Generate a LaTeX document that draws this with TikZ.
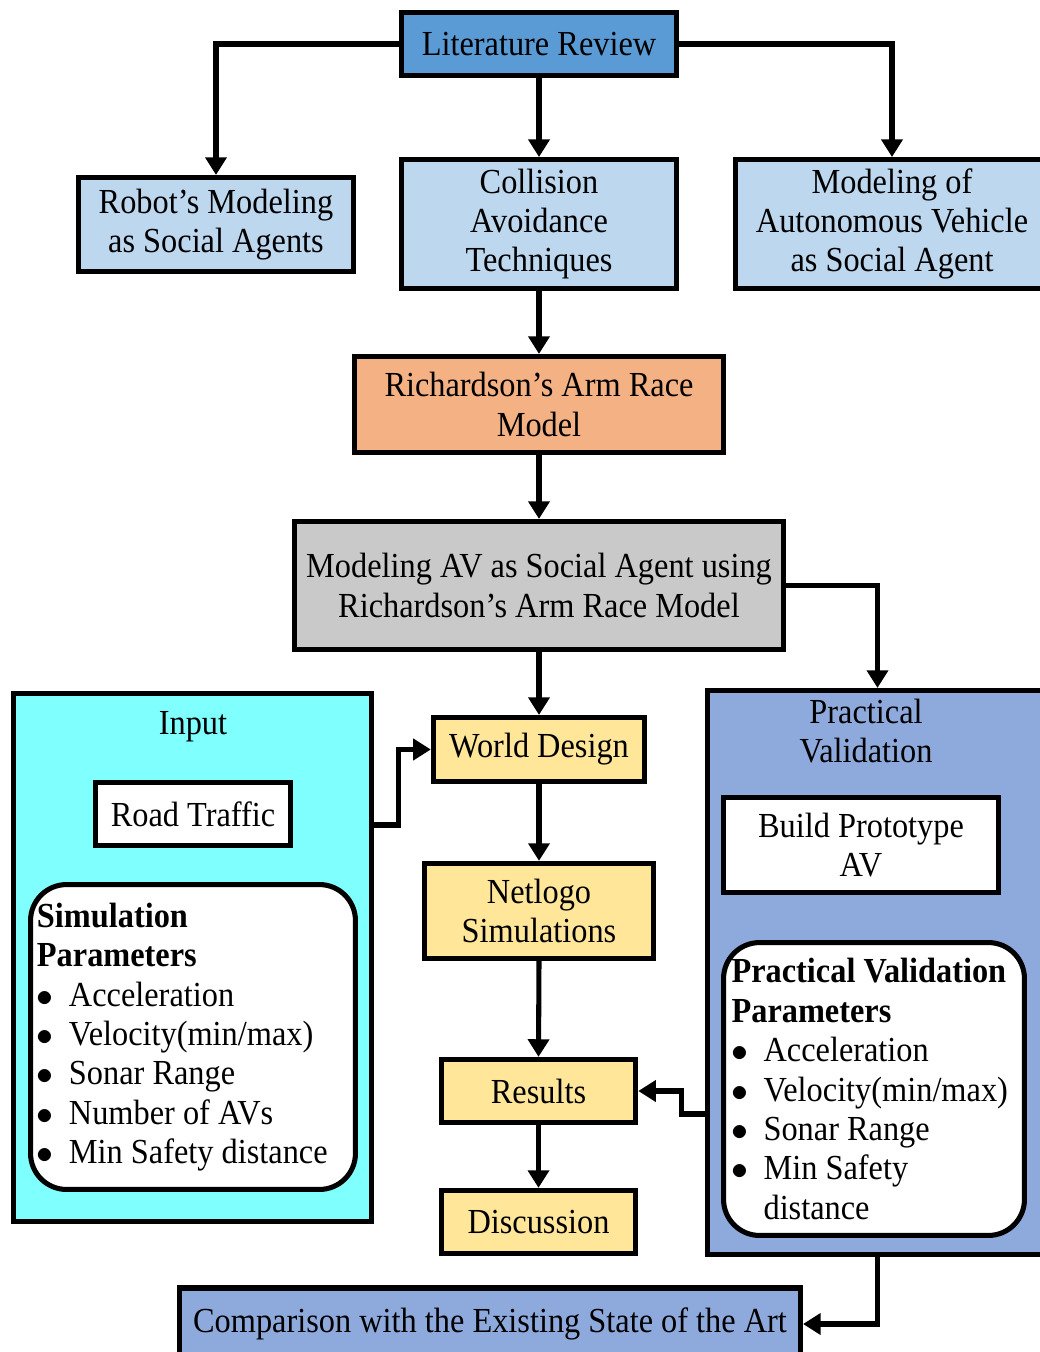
\documentclass[tikz,border=0pt]{standalone}
\usepackage{fontspec}
\setmainfont{Liberation Serif}[FakeStretch=0.92]
\usetikzlibrary{arrows.meta}

\definecolor{litblue}{HTML}{5B9BD5}
\definecolor{lightblue}{HTML}{BDD7EE}
\definecolor{armorange}{HTML}{F4B183}
\definecolor{agentgray}{HTML}{C9C9C9}
\definecolor{inputcyan}{HTML}{80FFFF}
\definecolor{simyellow}{HTML}{FFE699}
\definecolor{pvblue}{HTML}{8EA9DB}

\newcommand{\pbul}[1]{\makebox[0.4cm][l]{$\bullet$}#1}

\tikzset{
    box/.style={draw, line width=1.8pt, align=center, inner sep=2pt},
    parbox/.style={box, fill=white, rounded corners=0.45cm, align=flush left},
    arr/.style={line width=1.8pt, -{Triangle[width=0.26cm,length=0.22cm]}}
}

\begin{document}
\begin{tikzpicture}[x=0.0125cm, y=-0.0125cm, font=\fontsize{12.5}{14}\selectfont]
    \useasboundingbox (0,0) rectangle (1040,1352);

    % top row
    \node[box, fill=litblue, minimum width=3.44cm, minimum height=0.79cm] (lit) at (539,44) {Literature Review};
    \node[box, fill=lightblue, minimum width=3.44cm, minimum height=1.175cm] (robot) at (216,224.5) {Robot’s Modeling\\as Social Agents};
    \node[box, fill=lightblue, minimum width=3.44cm, minimum height=1.61cm] (coll) at (539,224) {Collision\\Avoidance\\Techniques};
    \node[box, fill=lightblue, minimum width=3.91cm, minimum height=1.61cm] (avsoc) at (892,224) {Modeling of\\Autonomous Vehicle\\as Social Agent};

    \node[box, fill=armorange, minimum width=4.61cm, minimum height=1.2cm] (arm) at (539,404.5) {Richardson’s Arm Race\\Model};
    \node[box, fill=agentgray, minimum width=6.11cm, minimum height=1.6cm] (social) at (539,585.5) {Modeling AV as Social Agent using\\Richardson’s Arm Race Model};

    % input side
    \node[box, fill=inputcyan, minimum width=4.475cm, minimum height=6.6cm] (input) at (192.5,957.5) {};
    \node (intitle) at (193,727) {Input};
    \node[box, fill=white, minimum width=2.44cm, minimum height=0.79cm] (road) at (193,814) {Road Traffic};
    \node[parbox, inner xsep=0.08cm, text width=3.9cm, minimum height=3.81cm] (simpar) at (193,1037)
        {\textbf{Simulation}\\\textbf{Parameters}\\\pbul{Acceleration}\\\pbul{Velocity(min/max)}\\\pbul{Sonar Range}\\\pbul{Number of AVs}\\\pbul{Min Safety distance}};

    % middle column
    \node[box, fill=simyellow, minimum width=2.64cm, minimum height=0.8cm] (world) at (539,749.5) {World Design};
    \node[box, fill=simyellow, minimum width=2.86cm, minimum height=1.19cm] (netlogo) at (539,911) {Netlogo\\Simulations};
    \node[box, fill=simyellow, minimum width=2.43cm, minimum height=0.79cm] (results) at (538.5,1091) {Results};
    \node[box, fill=simyellow, minimum width=2.43cm, minimum height=0.79cm] (disc) at (538.5,1222) {Discussion};

    % validation side
    \node[box, fill=pvblue, minimum width=4.25cm, minimum height=7.05cm] (pv) at (877.5,972.5) {};
    \node[align=center] (pvtitle) at (866,731) {Practical\\Validation};
    \node[box, fill=white, minimum width=3.44cm, minimum height=1.19cm] (build) at (861,845) {Build Prototype\\AV};
    \node[parbox, inner xsep=0.1cm, text width=3.56cm, minimum height=3.66cm] (pvpar) at (874,1089)
        {\textbf{Practical Validation}\\\textbf{Parameters}\\\pbul{Acceleration}\\\pbul{Velocity(min/max)}\\\pbul{Sonar Range}\\\pbul{Min Safety}\\\hspace*{0.4cm}distance};

    \node[box, fill=pvblue, minimum width=7.76cm, minimum height=0.9cm] (comp) at (490,1324) {Comparison with the Existing State of the Art};

    \coordinate (inout) at (input.east |- 0,825);
    \coordinate (pvout) at (pv.west |- 0,1114);

    \draw[arr] (lit.west) -| (robot.north);
    \draw[arr] (lit.south) -- (coll.north);
    \draw[arr] (lit.east) -| (avsoc.north);
    \draw[arr] (coll.south) -- (arm.north);
    \draw[arr] (arm.south) -- (social.north);
    \draw[arr] (social.east) -| (pv.north);
    \draw[arr] (social.south) -- (world.north);
    \draw[arr] (inout) -- ++(24,0) |- (world.west);
    \draw[arr] (world.south) -- (netlogo.north);
    \draw[arr] (netlogo.south) -- (results.north);
    \draw[arr] (results.south) -- (disc.north);
    \draw[arr] (pvout) -- ++(-23,0) |- (results.east);
    \draw[arr] (pv.south) |- (comp.east);
\end{tikzpicture}
\end{document}
